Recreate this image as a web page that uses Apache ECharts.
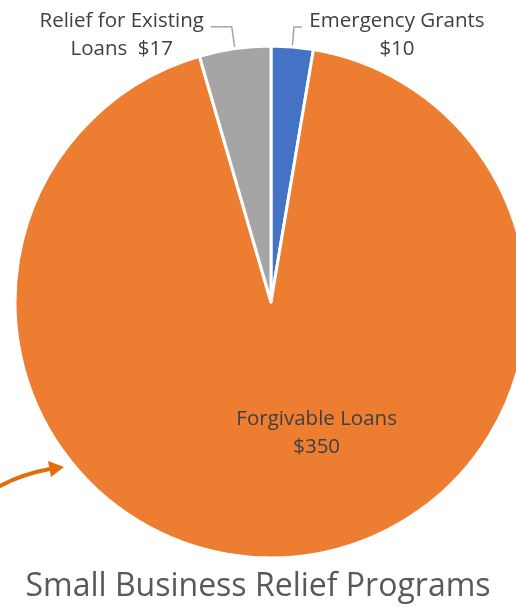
<!DOCTYPE html>
<html><head><meta charset="utf-8">
<script src="https://cdn.jsdelivr.net/npm/echarts@6/dist/echarts.min.js"></script>
<style>html,body{margin:0;padding:0;background:#fff}#c{width:516px;height:616px}</style>
</head><body><div id="c"></div>
<script>
const categories = ['Emergency Grants', 'Forgivable Loans', 'Relief for Existing Loans'];
const values = [10, 350, 17];
const labelTexts = ['{a|Emergency Grants}\n{a|$10}', '{b|Forgivable Loans}\n{b|$350}', '{c|Relief for Existing}\n{c|Loans  $17}'];
const colors = ['#4472C4', '#ED7D31', '#A5A5A5'];
const titleText = 'Small Business Relief Programs';

const FONT = 'Open Sans';
const chart = echarts.init(document.getElementById('c'), null, {renderer: 'canvas'});
const richBase = {fontFamily: FONT, fontSize: 20.5, color: '#404040', lineHeight: 28};
const data = categories.map((name, i) => {
  const d = {name, value: values[i], itemStyle: {color: colors[i]}};
  if (i === 0) {
    d.label = {position: 'outside', formatter: labelTexts[i], padding: [17, 0, 0, 0]};
    d.labelLine = {length: 20, length2: 8};
  } else if (i === 1) {
    d.label = {position: 'inside', formatter: labelTexts[i], offset: [38, 0]};
    d.labelLine = {show: false};
  } else {
    d.label = {position: 'outside', formatter: labelTexts[i], padding: [17, 0, 0, 0]};
    d.labelLine = {length: 22, length2: 21};
  }
  return d;
});
chart.setOption({
  animation: false,
  title: {text: titleText, left: 'center', top: 566, textStyle: {fontFamily: FONT, fontSize: 32, fontWeight: 'normal', color: '#595959'}},
  series: [{
    type: 'pie',
    center: [271, 302],
    radius: [0, 256],
    startAngle: 90,
    clockwise: true,
    avoidLabelOverlap: false,
    itemStyle: {borderColor: '#fff', borderWidth: 3},
    label: {show: true, rich: {
      a: Object.assign({width: 180, align: 'center'}, richBase),
      b: Object.assign({align: 'center'}, richBase),
      c: Object.assign({width: 168, align: 'center'}, richBase)
    }},
    labelLine: {show: true, lineStyle: {color: '#A6A6A6', width: 1.5}, smooth: false},
    data
  }],
  graphic: [
    {type: 'bezierCurve', shape: {x1: -2, y1: 487, x2: 50, y2: 469, cpx1: 22, cpy1: 474}, style: {stroke: '#E46C0A', lineWidth: 4, fill: null}},
    {type: 'polygon', shape: {points: [[48, 461], [64, 467], [51, 477]]}, style: {fill: '#E46C0A'}}
  ]
});
</script></body></html>
